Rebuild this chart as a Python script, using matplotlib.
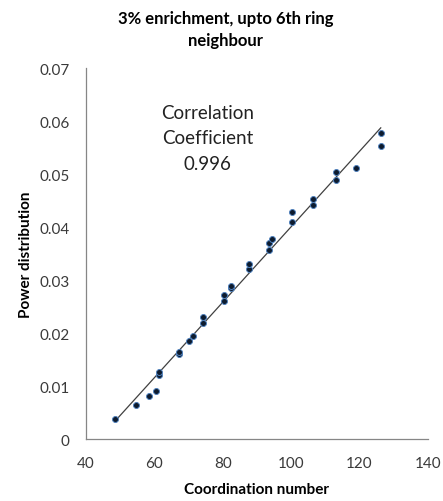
import numpy as np
import matplotlib
matplotlib.use("Agg")
import matplotlib.pyplot as plt

plt.rcParams['font.family'] = ['Lato', 'DejaVu Sans']

# coordination number vs power distribution
coord = [48.5, 54.6, 58.5, 60.6, 61.3, 61.3, 67.3, 67.3, 70.1, 71.4,
         74.2, 74.2, 80.3, 80.3, 82.3, 82.3, 87.6, 87.6, 93.6, 93.6,
         94.3, 100.3, 100.3, 106.4, 106.4, 113.2, 113.2, 119.1, 126.2, 126.2]
power = [0.0037, 0.0065, 0.0081, 0.0090, 0.0120, 0.0127, 0.0160, 0.0165, 0.0184, 0.0194,
         0.0219, 0.0230, 0.0261, 0.0272, 0.0284, 0.0289, 0.0320, 0.0331, 0.0357, 0.0369,
         0.0377, 0.0409, 0.0429, 0.0442, 0.0453, 0.0489, 0.0504, 0.0512, 0.0552, 0.0577]

xticks = [40, 60, 80, 100, 120, 140]
yticks = [0, 0.01, 0.02, 0.03, 0.04, 0.05, 0.06, 0.07]
ytick_labels = ['0', '0.01', '0.02', '0.03', '0.04', '0.05', '0.06', '0.07']

x = np.array(coord)
y = np.array(power)
slope, intercept = np.polyfit(x, y, 1)
xl = np.array([x.min(), x.max()])

fig = plt.figure(figsize=(4.43, 5.02), dpi=100)
ax = fig.add_axes([0.194, 0.1235, 0.772, 0.739])

ax.plot(xl, slope * xl + intercept, color='#404040', lw=0.9, zorder=1)
ax.plot(x, y, 'o', ms=4.3, mfc='#0d1b2e', mec='#4f81bd', mew=0.7, zorder=2)

ax.set_xlim(40, 140)
ax.set_ylim(0, 0.07)
ax.set_xticks(xticks)
ax.set_yticks(yticks)
ax.set_yticklabels(ytick_labels)
ax.tick_params(length=0, labelsize=11, colors='#3a3a3a', pad=12)
ax.tick_params(axis='y', pad=12)
for s in ['top', 'right']:
    ax.spines[s].set_visible(False)
for s in ['left', 'bottom']:
    ax.spines[s].set_color('#868686')
    ax.spines[s].set_linewidth(0.9)

ax.set_xlabel('Coordination number', fontsize=11, fontweight='bold', labelpad=9)
ax.set_ylabel('Power distribution', fontsize=11, fontweight='bold', labelpad=4)

ax.text(75.6, 0.0568, 'Correlation\nCoefficient\n0.996', ha='center', va='center',
        fontsize=13.5, color='#222222', linespacing=1.6)

fig.text(0.51, 0.978, '3% enrichment, upto 6th ring\nneighbour', ha='center', va='top',
         fontsize=12, fontweight='bold', linespacing=1.45)

fig.savefig('out.png', dpi=100)
